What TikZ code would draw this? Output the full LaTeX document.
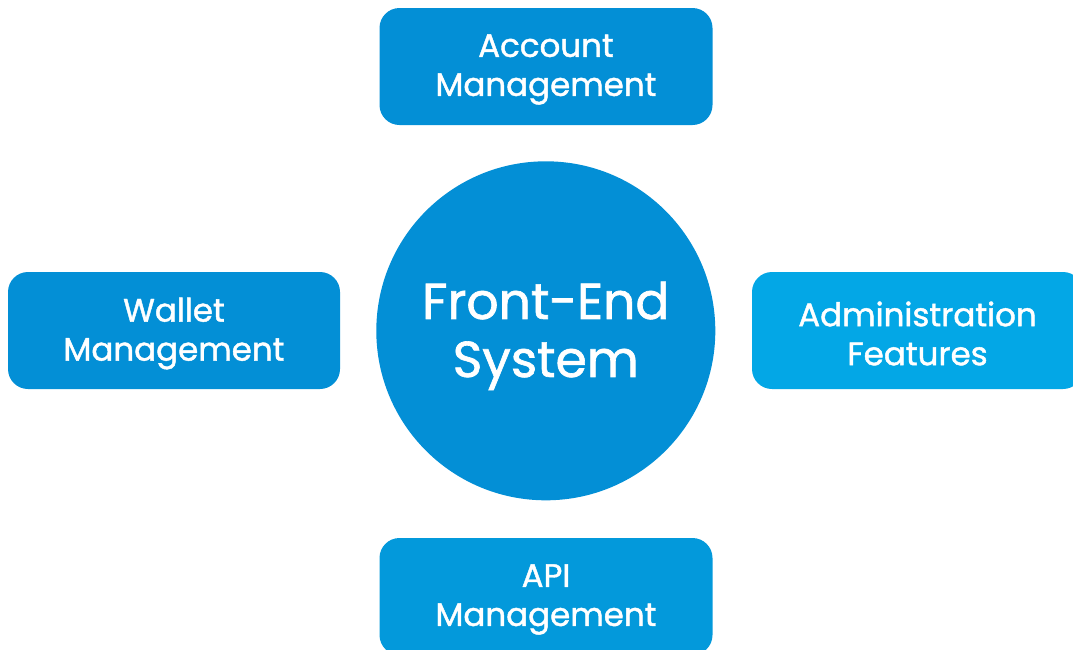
\documentclass[tikz,border=0pt]{standalone}
\usepackage{fontspec}
\setmainfont{Poppins}[FakeBold=1.3]
\definecolor{cmain}{HTML}{038FD6}
\definecolor{cright}{HTML}{03A7E6}
\definecolor{cbottom}{HTML}{0399DB}
\tikzset{
  box/.style={draw=none, rounded corners=20pt, minimum width=333pt, minimum height=117pt, inner sep=0pt},
  boxtext/.style={text=white, align=center, inner sep=0pt, font=\fontsize{32.5}{39}\selectfont},
  hub/.style={circle, fill=cmain, minimum size=339pt, inner sep=0pt},
  hubtext/.style={text=white, align=center, inner sep=0pt, font=\fontsize{50.5}{58}\selectfont}
}
\begin{document}
\begin{tikzpicture}[x=1pt,y=-1pt]
\useasboundingbox (0,0) rectangle (1073,649);
\clip (8,0) rectangle (1073,649);
\node[box, fill=cmain] (acct) at (546,66.5) {};
\node[box, fill=cmain, minimum width=332pt] (wallet) at (174,330.5) {};
\node[box, fill=cright, minimum width=331pt] (admin) at (917.5,330.5) {};
\node[box, fill=cbottom] (api) at (546,596.5) {};
\node[hub] (fe) at (545.8,330.8) {};
\node[boxtext] (acctT) at ([yshift=-3pt]acct.center) {Account\\Management};
\node[boxtext] (walletT) at ([yshift=-3pt]wallet.center) {Wallet\\Management};
\node[boxtext] (adminT) at ([yshift=-3pt]admin.center) {Administration\\Features};
\node[boxtext] (apiT) at ([yshift=-3pt]api.center) {API\\Management};
\node[hubtext] (feT) at ([yshift=-5pt]fe.center) {Front-End\\System};
\end{tikzpicture}
\end{document}
